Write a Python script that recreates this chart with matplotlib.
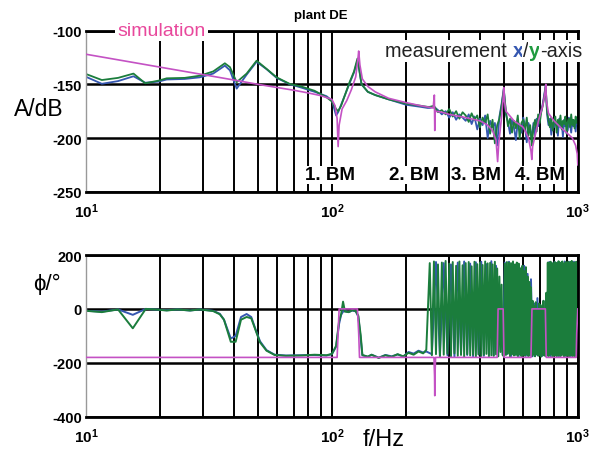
# Bode-Diagramm "plant DE": Simulation vs. Messung (x/y-Achse)

import numpy as np
import matplotlib.pyplot as plt

plt.rcParams["font.family"] = ["Liberation Sans", "DejaVu Sans"]
plt.rcParams["mathtext.fontset"] = "custom"
plt.rcParams["mathtext.rm"] = "Liberation Sans:bold"
plt.rcParams["mathtext.bf"] = "Liberation Sans:bold"

# ---------------------------------------------------------
# DATEN
# ---------------------------------------------------------
# Simulation, Betrag
sim_mag_f = [10, 15, 20, 30, 40, 50, 60, 70, 80, 90, 100, 103, 105, 106, 107, 110,
             115, 120, 125, 127.5, 128.5, 130, 133, 140, 150, 170, 200, 230, 258,
             261, 262, 263, 280, 300, 350, 400, 430, 450, 465, 472, 477, 490, 497,
             500, 503, 510, 550, 600, 630, 645, 650, 655, 690, 720, 735, 741, 745,
             760, 800, 850, 900, 950, 980, 995, 1000]
sim_mag_db = [-122, -129, -134, -141, -146, -150, -153, -155.5, -158, -160.5, -164,
              -170, -182, -208, -188, -173, -165, -155, -143, -127, -119, -132, -145,
              -152, -157, -163, -167, -170, -172, -160, -193, -175, -176, -178, -181,
              -184, -188, -193, -202, -222, -205, -180, -163, -153, -165, -175, -184,
              -190, -200, -212, -220, -208, -185, -170, -158, -150, -165, -177, -184,
              -190, -195, -200, -207, -215, -225]

# Simulation, Phase
sim_ph_f = [10, 105, 106, 107, 127, 128.5, 129.5, 260, 261.5, 262, 262.5, 264, 470,
            472, 474, 497, 499, 501, 645, 648, 651, 738, 741, 744, 985, 990, 1000]
sim_ph_deg = [-180, -180, -90, 0, 0, -90, -180, -180, -250, -322, -250, -180, -180,
              -90, 0, 0, -90, -180, -180, -90, 0, 0, -90, -180, -180, -90, 0]

# Messung, niedrige Frequenzen (Betrag)
lo_mag_f = [10, 11.6, 13.5, 15.6, 17.4, 19.7, 21.3, 25.2, 29, 32.9, 36.7, 38.5, 41,
            45, 49.4, 54.3, 59.6, 67.5, 75, 85, 95, 100, 104, 106, 109, 113, 118, 123,
            127, 129, 132, 140, 150, 170, 200, 230, 245]
lo_mag_x = [-143, -149.5, -147, -142.5, -148.5, -147.5, -145.5, -145, -143.5, -140,
            -132.6, -137, -154, -141, -129, -136, -144, -150, -153, -157, -161, -165,
            -179, -176, -169, -160, -149, -139, -128, -136, -150, -157, -160, -164,
            -169, -171, -172]
lo_mag_y = [-140.4, -146, -144, -140, -149, -146.6, -144.4, -144, -142, -138, -130.4,
            -134, -148, -140, -128, -135.7, -143.5, -149.7, -152, -156, -162, -166,
            -173, -175, -170, -160, -148, -138, -126, -135, -150, -157, -160, -164,
            -168, -170, -171]

# Messung, niedrige Frequenzen (Phase)
lo_ph_f = [10, 11.6, 13.5, 15.5, 17.5, 19.7, 21.3, 23.5, 26.5, 29, 32.9, 35, 36.4,
           38.8, 40.6, 42.7, 45, 47, 49, 51, 54.2, 58.5, 65, 75, 85, 95, 100, 104, 107,
           109, 111, 113, 117, 121, 125, 128, 131, 133, 140, 145, 155, 165, 175, 185,
           195, 205, 215, 225, 235, 242]
lo_ph_x = [-7, -10, -2, -22, 0, -3, -5, -2, -6, -2, -7, -18, -40, -110, -100, -30,
           -19, -30, -78, -120, -153, -170, -173, -172, -171, -173, -168, -140, -55,
           -22, -10, -8, -12, -6, -9, -28, -112, -172, -178, -170, -181, -171, -176,
           -169, -177, -160, -166, -155, -162, -158]
lo_ph_y = [-7, -12, -2, -72, 0, -3, -6, -2, -6, -2, -8, -20, -40, -122, -122, -40,
           -30, -35, -81, -124, -155, -171, -174, -173, -170, -172, -167, -137, -44,
           -20, 27, -10, -12, -5, -8, -25, -99, -171, -177, -170, -182, -172, -178,
           -168, -176, -163, -170, -158, -165, -152]

# Messung, hohe Frequenzen, Betrag (250 ... 1000 Hz)
hi_f = [250, 260, 270, 280, 290, 300, 310, 320, 330, 340, 350, 360, 370, 380, 390,
        400, 410, 420, 430, 440, 450, 460, 470, 480, 490, 500, 510, 520, 530, 540,
        550, 560, 570, 580, 590, 600, 610, 620, 630, 640, 650, 660, 670, 680, 690,
        700, 710, 720, 730, 740, 750, 760, 770, 780, 790, 800, 810, 820, 830, 840,
        850, 860, 870, 880, 890, 900, 910, 920, 930, 940, 950, 960, 970, 980, 990,
        1000]
hi_mag_x = [-172, -171, -174, -178, -175, -181, -176, -183, -178, -181, -184, -178,
            -187, -180, -192, -182, -188, -179, -200, -184, -190, -186, -207, -180,
            -168, -154, -178, -185, -196, -183, -190, -202, -185, -188, -195, -181,
            -189, -204, -186, -192, -200, -186, -198, -182, -189, -180, -175, -168,
            -160, -151, -178, -188, -182, -197, -186, -190, -184, -188, -198, -182,
            -190, -185, -199, -183, -189, -186, -193, -181, -188, -195, -183, -189,
            -185, -194, -182, -187]
hi_mag_y = [-171, -170, -176, -174, -178, -173, -180, -175, -182, -176, -179, -185,
            -177, -183, -179, -190, -181, -186, -178, -196, -183, -205, -188, -182,
            -170, -155, -175, -189, -182, -195, -184, -191, -179, -200, -186, -183,
            -193, -181, -198, -188, -207, -190, -183, -194, -178, -186, -176, -170,
            -162, -152, -175, -184, -190, -181, -193, -185, -180, -195, -183, -188,
            -179, -192, -184, -187, -180, -196, -185, -182, -190, -178, -188, -183,
            -191, -180, -186, -184]

# Messung, hohe Frequenzen, Phase (y-Achse, 250 ... 1000 Hz)
hi_ph_f_y = [250, 255, 260, 265, 270, 275, 280, 285, 290, 295,
             300, 305, 310, 315, 320, 325, 330, 335, 340, 345,
             350, 355, 360, 365, 370, 375, 380, 385, 390, 395,
             400, 405, 410, 415, 420, 425, 430, 435, 440, 445,
             450, 455, 460, 465, 470, 475, 480, 485, 490, 495,
             500, 505, 510, 515, 520, 525, 530, 535, 540, 545,
             550, 555, 560, 565, 570, 575, 580, 585, 590, 595,
             600, 605, 610, 615, 620, 625, 630, 635, 640, 645,
             650, 655, 660, 665, 670, 675, 680, 685, 690, 695,
             700, 705, 710, 715, 720, 725, 730, 735, 740, 745,
             750, 755, 760, 765, 770, 775, 780, 785, 790, 795,
             800, 805, 810, 815, 820, 825, 830, 835, 840, 845,
             850, 855, 860, 865, 870, 875, 880, 885, 890, 895,
             900, 905, 910, 915, 920, 925, 930, 935, 940, 945,
             950, 955, 960, 965, 970, 975, 980, 985, 990, 995,
             1000]
hi_ph_y = [170, -172, 176, -168, 165, -175, 172, -170, 178, -166,
           168, -176, 174, -165, 160, -174, 176, -171, 162, -177,
           170, -168, 174, -173, 158, -170, 175, -178, 166, -169,
           172, -175, 163, -170, 176, -167, 169, -176, 171, -172,
           165, -174, 175, -169, 150, -176, 120, -160, 90, -172,
           -175, 168, -171, 174, -166, 172, -178, 170, -169, 176,
           -173, 165, -170, 172, -175, 168, -168, 150, -176, 160,
           -171, 140, -174, 155, -169, 120, -176, 100, -172, 80,
           -175, 30, -170, 10, -176, 25, -168, 0, -174, 20,
           -171, 15, -177, 5, -169, 30, -173, -10, -175, 60,
           -170, 172, -176, 168, -171, 175, -167, 170, -178, 166,
           -172, 174, -169, 171, -176, 165, -170, 177, -173, 168,
           -175, 172, -168, 176, -171, 163, -177, 170, -169, 174,
           -174, 167, -170, 175, -176, 169, -172, 173, -168, 178,
           -175, 166, -171, 172, -177, 170, -169, 175, -173, 168,
           -60]

# Messung, hohe Frequenzen, Phase (x-Achse, 255 ... 995 Hz)
hi_ph_f_x = [255, 265, 275, 285, 295, 305, 315, 325, 335, 345,
             355, 365, 375, 385, 395, 405, 415, 425, 435, 445,
             455, 465, 475, 485, 495, 505, 515, 525, 535, 545,
             555, 565, 575, 585, 595, 605, 615, 625, 635, 645,
             655, 665, 675, 685, 695, 705, 715, 725, 735, 745,
             755, 765, 775, 785, 795, 805, 815, 825, 835, 845,
             855, 865, 875, 885, 895, 905, 915, 925, 935, 945,
             955, 965, 975, 985, 995]
hi_ph_x = [-168, 174, -175, 170, -172, 165, -177, 172, -166, 176,
           -171, 168, -176, 173, -169, 175, -174, 166, -170, 177,
           -173, 160, -100, 40, -170, 172, -168, 175, -176, 170,
           -171, 168, -175, 150, -169, 160, -174, 130, -170, 110,
           -176, 20, -171, 40, -168, 10, -175, 30, -172, 0,
           -170, 174, -176, 169, -172, 175, -168, 171, -177, 166,
           -173, 172, -169, 176, -175, 168, -171, 174, -176, 170,
           -172, 175, -168, 171, -174]

# Achsen / Beschriftung
x_major = [10, 100, 1000]
x_major_labels = [r"$\mathbf{10^{1}}$", r"$\mathbf{10^{2}}$", r"$\mathbf{10^{3}}$"]
x_minor = [20, 30, 40, 50, 60, 70, 80, 90, 200, 300, 400, 500, 600, 700, 800, 900]
mag_ticks = [-250, -200, -150, -100]
ph_ticks = [-400, -200, 0, 200]
bm_labels = ["1. BM", "2. BM", "3. BM", "4. BM"]
bm_pos = [0.496, 0.667, 0.793, 0.923]
legend_parts = [("measurement ", "#222222", "normal"), ("x", "#3557b0", "bold"),
                ("/", "#222222", "normal"), ("y", "#1f9a3f", "bold"),
                ("-axis", "#222222", "normal")]

COL_X = "#3557b0"
COL_Y = "#1b7d3c"
COL_SIM = "#c452c4"
COL_SIM_TXT = "#e8489c"

# ---------------------------------------------------------
# FIGUR
# ---------------------------------------------------------
fig = plt.figure(figsize=(5.89, 4.52), dpi=100)
ax1 = fig.add_axes([0.146, 0.5737, 0.835, 0.3563])
ax2 = fig.add_axes([0.146, 0.0759, 0.835, 0.3577])


def style_axes(ax, yticks, ylim):
    ax.set_xscale("log")
    ax.set_xlim(10, 1000)
    ax.set_ylim(*ylim)
    ax.set_xticks(x_major)
    ax.set_xticklabels(x_major_labels, fontsize=11)
    ax.set_xticks(x_minor, minor=True)
    ax.set_xticklabels([], minor=True)
    ax.set_yticks(yticks)
    ax.set_yticklabels([str(v) for v in yticks], fontsize=10.5, fontweight="bold")
    ax.tick_params(which="both", length=0)
    ax.tick_params(axis="x", pad=7)
    ax.tick_params(axis="y", pad=3)
    ax.grid(True, which="both", axis="x", color="black", linewidth=1.4)
    ax.grid(True, which="major", axis="y", color="black", linewidth=1.8)
    for side in ["top", "bottom", "right"]:
        ax.spines[side].set_linewidth(2)
    ax.spines["left"].set_color("#999999")
    ax.spines["left"].set_linewidth(1)


# ---------------------------------------------------------
# PLOT 1: Betrag
# ---------------------------------------------------------
ax1.plot(lo_mag_f + hi_f, lo_mag_x + hi_mag_x, color=COL_X, linewidth=1.3)
ax1.plot(lo_mag_f + hi_f, lo_mag_y + hi_mag_y, color=COL_Y, linewidth=1.3)
ax1.plot(sim_mag_f, sim_mag_db, color=COL_SIM, linewidth=1.2, zorder=3)
style_axes(ax1, mag_ticks, (-250, -100))

ax1.text(0.153, 1.0, "simulation", transform=ax1.transAxes, ha="center",
         va="center", fontsize=14, color=COL_SIM_TXT, zorder=5, clip_on=False,
         bbox=dict(facecolor="white", edgecolor="none", pad=1.5))

for lab, xp in zip(bm_labels, bm_pos):
    ax1.text(xp, 0.104, lab, transform=ax1.transAxes, ha="center", va="center",
             fontsize=13.5, fontweight="bold", zorder=5,
             bbox=dict(facecolor="white", edgecolor="none", pad=0.5))

# ---------------------------------------------------------
# PLOT 2: Phase
# ---------------------------------------------------------
ax2.plot(lo_ph_f + hi_ph_f_x, lo_ph_x + hi_ph_x, color=COL_X, linewidth=1.4)
ax2.plot(lo_ph_f + hi_ph_f_y, lo_ph_y + hi_ph_y, color=COL_Y, linewidth=1.4)
ax2.plot(sim_ph_f, sim_ph_deg, color=COL_SIM, linewidth=1.2, zorder=3)
style_axes(ax2, ph_ticks, (-400, 200))

# ---------------------------------------------------------
# TEXTE
# ---------------------------------------------------------
fig.text(0.545, 0.957, "plant DE", ha="center", va="baseline", fontsize=9.5,
         fontweight="bold")
fig.text(0.024, 0.757, "A/dB", ha="left", va="center", fontsize=16.5)
fig.text(0.056, 0.37, "ϕ/°", ha="left", va="center", fontsize=16)
fig.text(0.652, 0.0135, "f/Hz", ha="center", va="baseline", fontsize=17)

# Legende "measurement x/y-axis" mehrfarbig, Teil fuer Teil
fig.canvas.draw()
renderer = fig.canvas.get_renderer()
x_pos = 0.654
for txt, col, w in legend_parts:
    t = fig.text(x_pos, 0.873, txt, fontsize=14.3, color=col, fontweight=w,
                 va="baseline", ha="left", zorder=5,
                 bbox=dict(facecolor="white", edgecolor="none", pad=0.8))
    bb = t.get_window_extent(renderer)
    x_pos += bb.width / fig.bbox.width

fig.savefig("out.png", dpi=100)
